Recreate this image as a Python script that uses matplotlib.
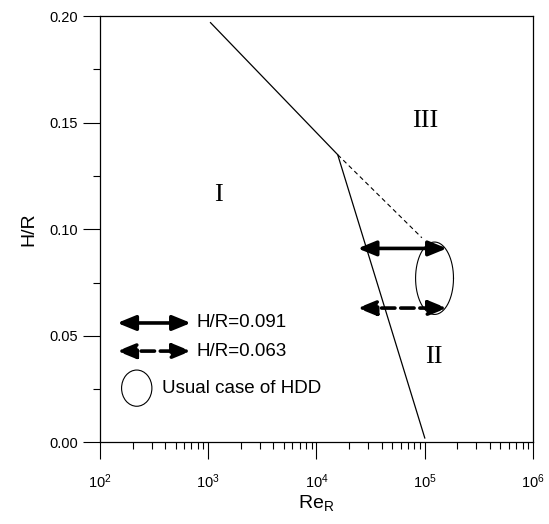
import numpy as np
import matplotlib
matplotlib.use('Agg')
import matplotlib.pyplot as plt
import matplotlib.ticker as mticker
from matplotlib.patches import Ellipse

# boundary lines between regimes
boundary_re = [1.05e3, 1.57e4, 1.0e5]
boundary_hr = [0.197, 0.135, 0.002]
dashed_re = [1.57e4, 9.4e4]
dashed_hr = [0.135, 0.096]

# H/R cases shown with arrows
case_hr = [0.091, 0.063]
case_styles = ['-', '--']
case_labels = ['H/R=0.091', 'H/R=0.063']
arrow_re = [2.4e4, 1.6e5]

# usual HDD ellipse (center in log10 Re, H/R; size)
hdd_center = (5.09, 0.077)
hdd_size = (0.35, 0.034)

# region labels
region_names = ['I', 'II', 'III']
region_re = [1.25e3, 1.2e5, 1.0e5]
region_hr = [0.116, 0.040, 0.151]

plt.rcParams['font.family'] = ['Liberation Sans', 'DejaVu Sans']

fig = plt.figure(figsize=(5.49, 5.24), dpi=100)
ax = fig.add_axes([0.182, 0.156, 0.789, 0.813])
ax.set_xscale('log')
ax.set_xlim(1e2, 1e6)
ax.set_ylim(0, 0.2)

ax.plot(boundary_re, boundary_hr, color='k', lw=0.9)
ax.plot(dashed_re, dashed_hr, color='k', lw=0.8, ls=(0, (4, 3)))

arrow_style = '<|-|>,head_length=1.1,head_width=0.45'
for hr, ls in zip(case_hr, case_styles):
    ax.annotate('', xy=(arrow_re[1], hr), xytext=(arrow_re[0], hr),
                arrowprops=dict(arrowstyle=arrow_style,
                                color='k', lw=2.6, ls=ls, shrinkA=0, shrinkB=0))

# ellipse drawn in log space so it stays an ellipse on log axis
t = np.linspace(0, 2 * np.pi, 200)
ex = 10 ** (hdd_center[0] + hdd_size[0] / 2 * np.cos(t))
ey = hdd_center[1] + hdd_size[1] / 2 * np.sin(t)
ax.plot(ex, ey, color='k', lw=0.8)

for name, x, y in zip(region_names, region_re, region_hr):
    ax.text(x, y, name, family='Liberation Serif', fontsize=19, ha='center', va='center')

# legend built by hand in axes coords
lx0, lx1 = 0.04, 0.21
for i, (ls, lab) in enumerate(zip(case_styles, case_labels)):
    yy = 0.28 - i * 0.066
    ax.annotate('', xy=(lx1, yy), xytext=(lx0, yy), xycoords='axes fraction',
                arrowprops=dict(arrowstyle=arrow_style,
                                color='k', lw=2.6, ls=ls, shrinkA=0, shrinkB=0))
    ax.text(lx1 + 0.012, yy, lab, transform=ax.transAxes, fontsize=13.5, va='center')
ax.add_patch(Ellipse((0.085, 0.127), 0.07, 0.085, transform=ax.transAxes,
                     fill=False, color='k', lw=0.8))
ax.text(0.143, 0.127, 'Usual case of HDD', transform=ax.transAxes, fontsize=13.5, va='center')

ax.set_yticks(np.arange(0, 0.201, 0.05))
ax.yaxis.set_minor_locator(mticker.MultipleLocator(0.025))
ax.yaxis.set_major_formatter(mticker.FormatStrFormatter('%.2f'))
ax.xaxis.set_major_locator(mticker.LogLocator(base=10))
ax.xaxis.set_minor_locator(mticker.LogLocator(base=10, subs=np.arange(2, 10)))
ax.xaxis.set_minor_formatter(mticker.NullFormatter())
ax.tick_params(which='major', direction='out', length=12, width=0.8, labelsize=10.5, pad=4)
ax.tick_params(which='minor', direction='out', length=5, width=0.8)
ax.tick_params(axis='x', which='major', pad=10)
for s in ax.spines.values():
    s.set_linewidth(0.9)

ax.set_ylabel('H/R', fontsize=14, labelpad=8)
ax.set_xlabel('Re$_\\mathregular{R}$', fontsize=14, labelpad=2)

fig.savefig('out.png', dpi=100)
